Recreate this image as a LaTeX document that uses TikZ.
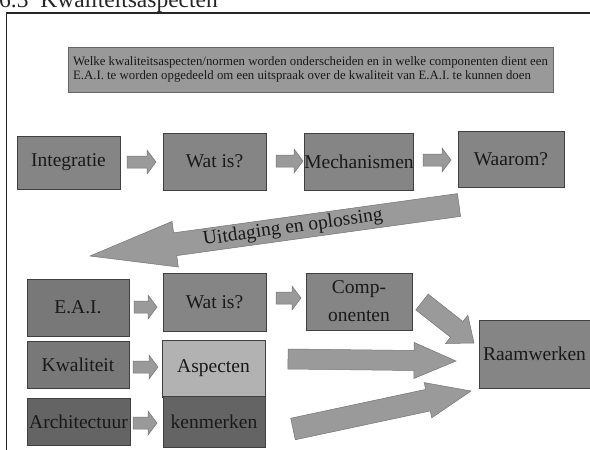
\documentclass[tikz,border=0pt]{standalone}
\usepackage{fontspec}
\setmainfont{Liberation Serif}
\usetikzlibrary{calc}

\definecolor{boxmid}{HTML}{858585}
\definecolor{boxdark}{HTML}{787878}
\definecolor{boxdeep}{HTML}{646464}
\definecolor{boxlight}{HTML}{B2B2B2}
\definecolor{bannergray}{HTML}{999999}
\definecolor{arrowgray}{HTML}{9A9A9A}

\tikzset{
  stepbox/.style={draw=black!75, line width=0.6pt, inner sep=0pt, text=black!90,
    font=\fontsize{19.5}{20}\selectfont, align=center},
  arrowfill/.style={fill=arrowgray, draw=black!55, line width=0.5pt, line join=miter},
  frameline/.style={line width=1.3pt, draw=black!85},
}

% block arrow: [style]{from}{to}{body half width}{head half width}{head length}
\newcommand\blockarrow[6][]{%
  \coordinate (ba-h) at ($(#3)!#6!(#2)$);
  \filldraw[arrowfill,#1]
    ($(#2)!#4!90:(#3)$) -- ($(ba-h)!#4!90:(#3)$) -- ($(ba-h)!#5!90:(#3)$)
    -- (#3) -- ($(ba-h)!#5!-90:(#3)$) -- ($(ba-h)!#4!-90:(#3)$)
    -- ($(#2)!#4!-90:(#3)$) -- cycle;
}

\begin{document}
\begin{tikzpicture}[x=1pt,y=-1pt]
\useasboundingbox (0,0) rectangle (590,450);
\clip (0,0) rectangle (590,450);

% section heading, cut by the page top
\node[anchor=base west, inner sep=0pt, font=\fontsize{23.5}{24}\selectfont, text=black!85]
  (title) at (-1,7.5) {6.3\ \ Kwaliteitsaspecten};

% frame
\coordinate (frame-tl) at (6.5,13);
\coordinate (frame-tr) at (590,13);
\coordinate (frame-bl) at (6.5,450);
\draw[frameline] (frame-tr) -- (frame-tl) -- (frame-bl);

% question banner
\node[fill=bannergray, draw=black!60, line width=0.5pt, minimum width=485pt, minimum height=45pt,
      inner sep=0pt, text=black!90, align=left, font=\fontsize{12.8}{14}\selectfont]
  (banner) at (310.5,69.5)
  {Welke kwaliteitsaspecten/normen worden onderscheiden en in welke componenten dient een\\
   E.A.I. te worden opgedeeld om een uitspraak over de kwaliteit van E.A.I. te kunnen doen};

% first row
\node[stepbox, fill=boxmid, minimum width=103pt, minimum height=53pt] (integ)  at (68.5,162.5) {Integratie};
\node[stepbox, fill=boxmid, minimum width=103pt, minimum height=57pt] (watis1) at (214.5,161.5) {Wat is?};
\node[stepbox, fill=boxmid, minimum width=106pt, minimum height=57pt] (mech)   at (359,161.5) {Mechanismen};
\node[stepbox, fill=boxmid, minimum width=106pt, minimum height=56pt] (waarom) at (511,159) {Waarom?};

% lower rows
\node[stepbox, fill=boxdark, minimum width=102pt, minimum height=57pt] (eai)    at (78,307.5) {E.A.I.};
\node[stepbox, fill=boxmid,  minimum width=103pt, minimum height=58pt] (watis2) at (214.5,302) {Wat is?};
\node[stepbox, fill=boxmid,  minimum width=106pt, minimum height=57pt,
      font=\fontsize{19.5}{28}\selectfont] (comp) at (359,301.5) {Comp-\\onenten};
\node[stepbox, fill=boxdark, minimum width=102pt, minimum height=47pt] (kwal)   at (78,364.5) {Kwaliteit};
\node[stepbox, fill=boxlight,minimum width=103pt, minimum height=57pt] (asp)    at (213.5,368.5) {Aspecten};
\node[stepbox, fill=boxdeep, minimum width=103pt, minimum height=47pt] (arch)   at (78.5,421.5) {Architectuur};
\node[stepbox, fill=boxdeep, minimum width=102pt, minimum height=51pt] (kenm)   at (214,421.5) {kenmerken};
\node[stepbox, fill=boxmid,  minimum width=111pt, minimum height=68pt] (raam)   at (534.5,354) {Raamwerken};

% short arrows between neighbouring boxes
\coordinate (a1s) at (127,162);   \coordinate (a1e) at (156,162);
\coordinate (a2s) at (276,161);   \coordinate (a2e) at (303,161);
\coordinate (a3s) at (423,160);   \coordinate (a3e) at (451,160);
\coordinate (b1s) at (134,307);   \coordinate (b1e) at (157,307);
\coordinate (b2s) at (276,298);   \coordinate (b2e) at (301,298);
\coordinate (c1s) at (133,367);   \coordinate (c1e) at (158,367);
\coordinate (d1s) at (133,423);   \coordinate (d1e) at (157,423);
\blockarrow{a1s}{a1e}{6pt}{12pt}{9pt}
\blockarrow{a2s}{a2e}{6pt}{12pt}{9pt}
\blockarrow{a3s}{a3e}{6pt}{12pt}{9pt}
\blockarrow{b1s}{b1e}{6pt}{12pt}{9pt}
\blockarrow{b2s}{b2e}{6pt}{12pt}{9pt}
\blockarrow{c1s}{c1e}{6pt}{12pt}{9pt}
\blockarrow{d1s}{d1e}{6pt}{12pt}{9pt}

% arrows into the frameworks box
\coordinate (e1s) at (422,302);  \coordinate (e1e) at (474,343);
\coordinate (e2s) at (288,359);  \coordinate (e2e) at (456,361);
\coordinate (e3s) at (293,429);  \coordinate (e3e) at (471,391);
\blockarrow{e1s}{e1e}{10pt}{18pt}{22pt}
\blockarrow{e2s}{e2e}{10pt}{18pt}{42pt}
\blockarrow{e3s}{e3e}{11pt}{18pt}{44pt}

% large arrow back to the left
\coordinate (big-tail) at (459,205);
\coordinate (big-tip)  at (90,256);
\blockarrow{big-tail}{big-tip}{11.5pt}{23pt}{86pt}
\path (big-tail) -- (big-tip)
  node[pos=0.45, sloped, inner sep=0pt, text=black!90, font=\fontsize{19.5}{20}\selectfont]
  (bigtext) {Uitdaging en oplossing};
\end{tikzpicture}
\end{document}
